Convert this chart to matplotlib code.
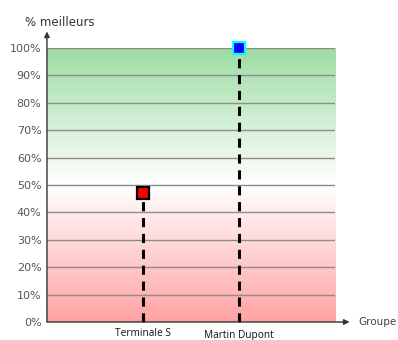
import numpy as np
import matplotlib
matplotlib.use("Agg")
import matplotlib.pyplot as plt
from matplotlib.colors import LinearSegmentedColormap
from matplotlib.transforms import ScaledTranslation

categories = ["Terminale S", "Martin Dupont"]
values = [47, 100]
face_colors = ["#ff0000", "#0000ff"]
edge_colors = ["#000000", "#00ffff"]
y_ticks = list(range(0, 101, 10))
y_label = "% meilleurs"
x_label = "Groupe"

fig = plt.figure(figsize=(3.98, 3.40), dpi=100)
ax = fig.add_axes([0.118, 0.053, 0.724, 0.806])

# vertical background gradient: red at the bottom, white in the middle, green on top
cmap = LinearSegmentedColormap.from_list(
    "bg", [(0.0, "#ffa3a3"), (0.5, "#ffffff"), (1.0, "#9cdca2")])
grad = np.linspace(0, 1, 256).reshape(-1, 1)
ax.imshow(grad, cmap=cmap, origin="lower", aspect="auto",
          extent=[0, 3, 0, 100], zorder=0)

ax.set_xlim(0, 3)
ax.set_ylim(0, 100)

for t in y_ticks[1:]:
    ax.axhline(t, color="#8c8c8c", lw=1.0, zorder=1)

xs = np.arange(1, len(categories) + 1)
for x, v, fc, ec in zip(xs, values, face_colors, edge_colors):
    ax.plot([x, x], [0, v], color="black", lw=2.2, ls=(0, (3, 2.2)),
            zorder=2, clip_on=False)
    ax.plot([x], [v], marker="s", ms=9, mfc=fc, mec=ec, mew=1.6,
            zorder=3, clip_on=False)

ax.set_yticks(y_ticks)
ax.set_yticklabels([f"{t}%" for t in y_ticks], color="#555555", fontsize=8)
ax.set_xticks(xs)
ax.set_xticklabels(categories, fontsize=7.3, color="#111111",
                   fontfamily="Open Sans")
ax.tick_params(axis="both", length=0, pad=4)
ax.tick_params(axis="x", pad=4)
# second category label sits a little lower
lbl = ax.get_xticklabels()[1]
lbl.set_transform(lbl.get_transform() +
                  ScaledTranslation(0, -1.5 / 72, fig.dpi_scale_trans))

for s in ["top", "right", "left", "bottom"]:
    ax.spines[s].set_visible(False)

# axes drawn as arrows
ax.annotate("", xy=(0, 106), xytext=(0, 0), xycoords="data",
            arrowprops=dict(arrowstyle="-|>", color="#333333", lw=1.0,
                            mutation_scale=8, shrinkA=0, shrinkB=0),
            annotation_clip=False, zorder=4)
ax.annotate("", xy=(3.15, 0), xytext=(0, 0), xycoords="data",
            arrowprops=dict(arrowstyle="-|>", color="#333333", lw=1.0,
                            mutation_scale=8, shrinkA=0, shrinkB=0),
            annotation_clip=False, zorder=4)

fig.text(0.063, 0.935, y_label, fontsize=8.5, color="#333333",
         ha="left", va="center")
fig.text(0.9, 0.053, x_label, fontsize=7.5, color="#444444",
         ha="left", va="center")

fig.savefig("out.png", dpi=100)
